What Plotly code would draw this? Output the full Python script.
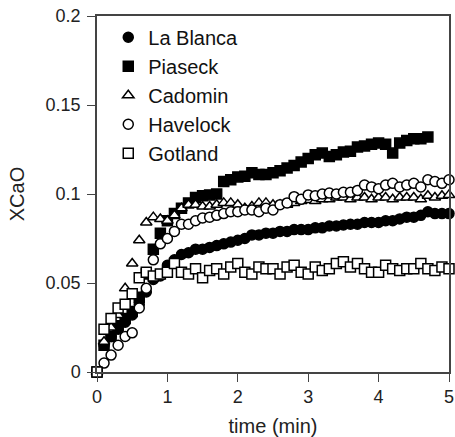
import plotly.graph_objects as go

t = [round(0.1 * i, 1) for i in range(51)]

la_blanca = [0.0, 0.015, 0.02, 0.024, 0.028, 0.032, 0.038, 0.045, 0.052, 0.054,
             0.060, 0.063, 0.066, 0.067, 0.069, 0.069, 0.070, 0.071, 0.072, 0.073,
             0.074, 0.075, 0.077, 0.077, 0.078, 0.078, 0.079, 0.079, 0.080, 0.080,
             0.080, 0.081, 0.081, 0.082, 0.082, 0.0826, 0.083, 0.083, 0.084, 0.084,
             0.084, 0.085, 0.085, 0.086, 0.087, 0.087, 0.088, 0.090, 0.089, 0.089, 0.089]

piaseck = [0.0, 0.015, 0.02, 0.026, 0.03, 0.034, 0.042, 0.055, 0.069, 0.078,
           0.085, 0.089, 0.092, 0.095, 0.098, 0.099, 0.0995, 0.100, 0.107, 0.108,
           0.1096, 0.110, 0.112, 0.111, 0.111, 0.112, 0.113, 0.1146, 0.116, 0.118,
           0.120, 0.122, 0.123, 0.121, 0.122, 0.1236, 0.124, 0.1264, 0.127, 0.128,
           0.1286, 0.128, 0.123, 0.1286, 0.130, 0.131, 0.131, 0.132]

cadomin = [0.0, 0.017, 0.025, 0.032, 0.047, 0.061, 0.074, 0.084, 0.087, 0.086,
           0.085, 0.088, 0.092, 0.094, 0.094, 0.093, 0.093, 0.094, 0.095, 0.095,
           0.094, 0.092, 0.093, 0.095, 0.095, 0.094, 0.094, 0.094, 0.095, 0.096,
           0.0966, 0.096, 0.097, 0.097, 0.098, 0.098, 0.097, 0.098, 0.098, 0.097,
           0.098, 0.098, 0.097, 0.098, 0.098, 0.098, 0.097, 0.099, 0.098, 0.099, 0.0995]

havelock = [0.0, 0.005, 0.0095, 0.015, 0.02, 0.022, 0.036, 0.047, 0.063, 0.072,
            0.075, 0.079, 0.083, 0.083, 0.085, 0.0865, 0.087, 0.088, 0.089, 0.09,
            0.09, 0.091, 0.091, 0.090, 0.092, 0.091, 0.094, 0.095, 0.0985, 0.097,
            0.0995, 0.099, 0.100, 0.1005, 0.100, 0.101, 0.101, 0.102, 0.105, 0.104,
            0.103, 0.105, 0.106, 0.104, 0.105, 0.106, 0.104, 0.108, 0.107, 0.106, 0.108]

gotland = [0.0, 0.024, 0.03, 0.036, 0.038, 0.044, 0.053, 0.056, 0.054, 0.055,
           0.056, 0.061, 0.056, 0.055, 0.058, 0.053, 0.057, 0.058, 0.055, 0.059,
           0.061, 0.056, 0.055, 0.059, 0.058, 0.058, 0.055, 0.059, 0.060, 0.056,
           0.055, 0.059, 0.057, 0.058, 0.061, 0.062, 0.059, 0.061, 0.058, 0.056,
           0.056, 0.060, 0.058, 0.057, 0.058, 0.058, 0.061, 0.058, 0.057, 0.059, 0.058]

series = [
    ("La Blanca", la_blanca, "circle", "black"),
    ("Piaseck", piaseck, "square", "black"),
    ("Cadomin", cadomin, "triangle-up", "white"),
    ("Havelock", havelock, "circle", "white"),
    ("Gotland", gotland, "square", "white"),
]

fig = go.Figure()
for name, vals, sym, fill in series:
    fig.add_trace(go.Scatter(
        x=t[:len(vals)], y=vals, mode="markers", name=name,
        cliponaxis=False,
        marker=dict(symbol=sym, size=10, color=fill,
                    line=dict(color="black", width=1.5)),
    ))

axis_common = dict(
    showgrid=False, zeroline=False, showline=True, linecolor="#444",
    linewidth=1.5, mirror=True, ticks="outside", ticklen=8, tickwidth=1.3,
    tickcolor="#444", tickfont=dict(size=18, color="#222"), automargin=False,
)

fig.update_layout(
    width=455, height=437,
    margin=dict(l=97, r=6, t=16, b=65),
    paper_bgcolor="white", plot_bgcolor="white",
    font=dict(family="Liberation Sans, Arial, sans-serif", color="#222"),
    showlegend=True,
    legend=dict(x=0.032, y=0.995, xanchor="left", yanchor="top",
                font=dict(size=20, color="#111"), bgcolor="rgba(0,0,0,0)",
                borderwidth=0, tracegroupgap=0),
    xaxis=dict(range=[0, 5], tickvals=[0, 1, 2, 3, 4, 5],
               title=dict(text="time (min)", font=dict(size=20), standoff=17),
               **axis_common),
    yaxis=dict(range=[0, 0.2], tickvals=[0, 0.05, 0.1, 0.15, 0.2],
               ticktext=["0", "0.05", "0.1", "0.15", "0.2"],
               ticklabelstandoff=3,
               title=dict(text="XCaO", font=dict(size=20), standoff=16),
               **axis_common),
)

fig.write_html("out.html", config={"displayModeBar": False},
               post_script="document.body.style.margin='0';")
